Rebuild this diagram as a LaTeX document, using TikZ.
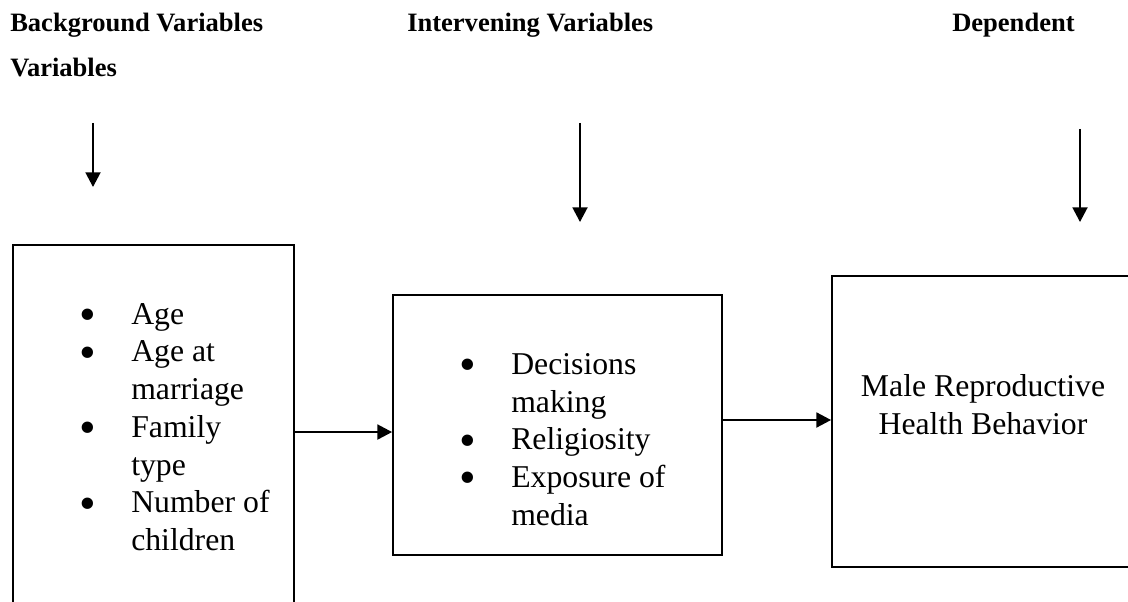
\documentclass[tikz,border=0pt]{standalone}
\usepackage{fontspec}
\setmainfont{Liberation Serif}
\usetikzlibrary{positioning,arrows.meta}
\tikzset{
  var-box/.style={draw=black, line width=1.4pt, inner sep=0pt},
  head-text/.style={font=\fontsize{19.9}{33.75}\selectfont\bfseries, inner sep=0pt, anchor=base west},
  list-text/.style={font=\fontsize{23.8}{28.3}\selectfont, align=left, inner sep=0pt, anchor=north west},
  box-text/.style={font=\fontsize{23.8}{28.3}\selectfont, align=center, inner sep=0pt, anchor=north},
  flow-arrow/.style={-{Triangle[length=11pt, width=11.25pt]}, line width=1.4pt, draw=black}
}
\newcommand{\bul}{\makebox[36.75pt][l]{\hspace*{-2pt}\smash{\raisebox{-0.2em}{\scalebox{1.5}{\textbullet}}}}}
\newcommand{\ind}{\hspace*{36.75pt}}

\begin{document}
\begin{tikzpicture}[x=0.75pt, y=-0.75pt]
\clip (0,0) rectangle (1128,602);

% Column headings
\node[head-text] (bg-head) at (10,32) {Background Variables};
\node[head-text] (bg-head2) at (10,77) {Variables};
\node[head-text] (iv-head) at (407,32) {Intervening Variables};
\node[head-text] (dv-head) at (952,32) {Dependent};

% Down arrows under the headings
\coordinate (bg-top) at (93,123);
\coordinate (bg-tip) at (93,187);
\coordinate (iv-top) at (580,123);
\coordinate (iv-tip) at (580,222);
\coordinate (dv-top) at (1080,129);
\coordinate (dv-tip) at (1080,222);
\draw[flow-arrow] (bg-top) -- (bg-tip);
\draw[flow-arrow] (iv-top) -- (iv-tip);
\draw[flow-arrow] (dv-top) -- (dv-tip);

% Boxes
\node[var-box, minimum width=210.75pt, minimum height=273.75pt] (bg-box) at (153.5,427.5) {};
\node[var-box, minimum width=246.75pt, minimum height=195pt] (iv-box) at (557.5,425) {};
\node[var-box, minimum width=226.5pt, minimum height=218.25pt] (dv-box) at (983,421.5) {};

% Box contents
\node[list-text] (bg-list) at (82,303)
  {\bul Age\\ \bul Age at\\ \ind marriage\\ \bul Family\\ \ind type\\ \bul Number of\\ \ind children};
\node[list-text] (iv-list) at (462,353)
  {\bul Decisions\\ \ind making\\ \bul Religiosity\\ \bul Exposure of\\ \ind media};
\node[box-text] (dv-text) at (983,374) {Male Reproductive\\Health Behavior};

% Flow between boxes
\draw[flow-arrow] ([yshift=-3.4pt]bg-box.east) -- ([yshift=-3.4pt]bg-box.east -| iv-box.west);
\draw[flow-arrow] ([yshift=3.75pt]iv-box.east) -- ([yshift=3.75pt]iv-box.east -| dv-box.west);
\end{tikzpicture}
\end{document}
